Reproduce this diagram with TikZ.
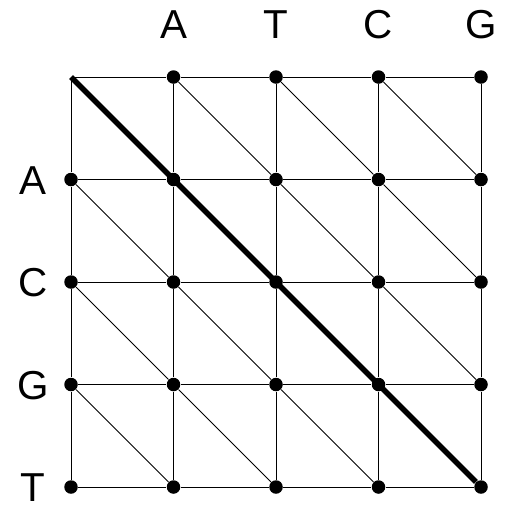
\documentclass[tikz,border=0pt]{standalone}
\usepackage{fontspec}
\setmainfont{Liberation Sans}
\usetikzlibrary{positioning}

\begin{document}
\begin{tikzpicture}[
  x=0.02cm, y=-0.02cm,
  font=\fontsize{23}{27}\selectfont,
  dot/.style={circle, fill=black, inner sep=0pt, minimum size=0.27cm},
  edge/.style={line width=0.45pt},
  best/.style={line width=3.2pt},
  seq/.style={inner sep=0pt}
]
  \useasboundingbox (0,0) rectangle (513,508);
  % grid points
  \foreach \i in {0,...,4}
    \foreach \j in {0,...,4} {
      \ifnum\i\j=0 \coordinate (n-\i-\j) at (71,77);
      \else \node[dot] (n-\i-\j) at ({71+102.5*\j},{77+102.5*\i}) {};
      \fi
    }
  % horizontal and vertical edges
  \foreach \i in {0,...,4}
    \foreach \a [count=\b] in {0,...,3} {
      \draw[edge] (n-\i-\a) -- (n-\i-\b);
      \draw[edge] (n-\a-\i) -- (n-\b-\i);
    }
  % diagonal edges
  \foreach \a [count=\b] in {0,...,3}
    \foreach \c [count=\d] in {0,...,3} {
      \ifnum\a=\c \else \draw[edge] (n-\a-\c) -- (n-\b-\d); \fi
    }
  \draw[best] (n-0-0) -- (n-4-4);
  % sequences
  \foreach \l [count=\j] in {A,T,C,G}
    \node[seq] (top-\j) at ([yshift=1.04cm]n-0-\j) {\l};
  \foreach \l [count=\i] in {A,C,G,T}
    \node[seq] (left-\i) at ([xshift=-0.76cm, yshift=-0.02cm]n-\i-0) {\l};
\end{tikzpicture}
\end{document}
